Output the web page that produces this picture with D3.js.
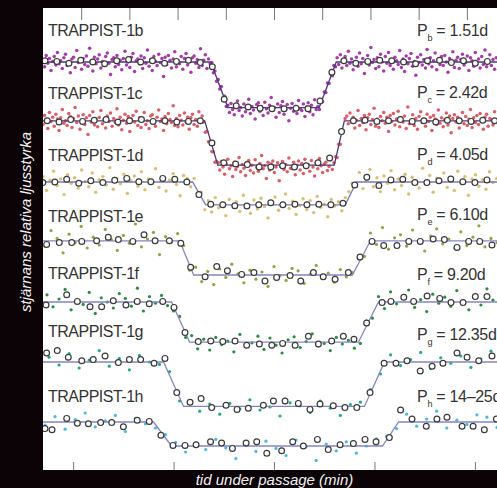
<!DOCTYPE html>
<html>
<head>
<meta charset="utf-8">
<script src="https://cdn.jsdelivr.net/npm/d3@7/dist/d3.min.js"></script>
<style>
  html, body { margin: 0; padding: 0; background: #0c0306; }
  svg { display: block; }
</style>
</head>
<body>
<svg width="497" height="488"></svg>
<script>
const width = 497
const height = 488
const panel = {left: 43, top: 8, right: 497, bottom: 470}

// planets, periods, stacking offset and transit shape (ppt, minutes)
const planets = ["b", "c", "d", "e", "f", "g", "h"]
const periods = ["1.51d", "2.42d", "4.05d", "6.10d", "9.20d", "12.35d", "14–25d"]
const offsets = [9.0, 18.8, 29.0, 38.8, 49.0, 59.0, 69.0]
const depths = [7.6, 7.4, 3.8, 5.7, 6.7, 7.4, 4.0]
const contacts = [
  [-31.5, -23, 22.5, 31], [-34.5, -28, 30, 35], [-40.5, -34, 35.5, 41],
  [-47, -40, 39, 48], [-51, -42, 42, 52], [-55, -45, 45, 55], [-60, -51, 54, 62]
]

// raw photometry: first time + cadence (min), then flux (ppt)
const dotStart = [-115, -115, -115, -114, -113, -112, -114]
const dotStep = [0.8, 0.8, 1.75, 3, 3, 5, 5]

const bDots = [
  0.4, -0.8, 1.1, -0.2, 0.6, -1.4, 0.1, 0.9, -0.5, 1.6,
  -0.3, 0.2, -1.1, 0.7, 1.3, -0.6, 0.0, -1.8, 0.5, 0.8,
  -0.9, 1.9, -0.1, 0.3, -1.2, 0.6, -0.4, 1.0, -0.7, 2.3,
  0.2, -1.5, 0.8, -0.3, 0.5, 1.2, -1.0, 0.1, -0.6, 0.9,
  1.5, -0.2, -2.1, 0.4, 0.7, -0.8, 1.1, -0.4, 0.3, -1.3,
  0.6, 1.8, -0.5, 0.0, -0.9, 0.8, 1.4, -1.6, 0.2, 0.5,
  -0.3, 1.0, -1.1, 0.7, -0.2, 2.0, -0.7, 0.4, -1.4, 0.9,
  0.1, -0.6, 1.3, -0.1, 0.6, -2.4, 0.8, -0.4, 1.1, 0.3,
  -1.0, 0.5, 1.7, -0.8, 0.2, -0.3, 0.9, -1.2, 0.6, 1.4,
  -0.5, 0.1, -1.7, 0.7, 1.0, -0.2, 0.4, -0.9, 2.2, -0.6,
  0.3, 1.2, -1.1, 0.5, -0.3,
  -0.1, -1.8, -1.5, -3.2, -2.9, -4.5, -4.1, -6.0, -5.7, -7.4,
  -7.2, -8.4, -6.9, -7.9, -8.8, -7.3, -6.5, -8.1, -7.6, -9.0,
  -7.0, -8.3, -7.7, -6.2, -8.6, -7.4, -8.0, -9.5, -7.1, -6.8,
  -8.2, -7.5, -8.9, -6.7, -7.8, -8.5, -7.2, -5.9, -8.0, -7.6,
  -9.2, -7.0, -8.4, -7.3, -6.6, -8.7, -7.9, -7.1, -9.8, -7.7,
  -6.9, -8.2, -7.4, -8.6, -6.4, -7.8, -8.1, -7.0, -9.1, -7.5,
  -6.8, -8.3, -7.2, -8.8, -6.3, -7.9, -7.4,
  -7.9, -6.4, -6.6, -5.0, -5.1, -3.5, -3.6, -2.0, -2.3, -0.6, -0.8,
  0.7, -0.4, 1.2, -1.0, 0.3, 0.9, -0.6, 1.8, -0.2, 0.5,
  -1.3, 0.1, 0.8, -0.7, 1.5, -0.3, 0.6, -1.9, 0.2, 1.1,
  -0.5, 2.4, -0.1, 0.4, -1.1, 0.7, -0.8, 1.3, 0.0, -1.5,
  0.9, -0.2, 1.6, -0.6, 0.3, -1.2, 0.8, 0.2, -0.4, 1.9,
  -0.9, 0.5, -1.6, 1.0, -0.3, 0.6, 1.4, -0.7, 0.1, -2.2,
  0.8, -0.1, 1.2, -0.5, 0.4, -1.0, 2.1, -0.3, 0.7, -0.8,
  0.2, 1.5, -1.3, 0.5, -0.4, 0.9, -0.6, 1.1, 0.0, -1.7,
  0.6, -0.2, 1.7, -0.9, 0.3, 0.8, -1.1, 0.4, 1.3, -0.5,
  -0.1, 1.0, -1.4, 0.7, 0.2, -0.7, 1.6, -0.3, 0.5, -1.0,
  0.9, -0.4, 2.0, -0.8, 0.1, 1.2, -0.6, 0.4, -1.2, 0.7
]
const cDots = [
  -0.6, 0.9, 0.2, -1.3, 1.4, -0.1, 0.6, -0.9, 1.1, 0.3,
  -1.6, 0.5, 1.9, -0.4, 0.0, -0.8, 1.2, 0.7, -1.1, 0.4,
  2.2, -0.3, 0.8, -1.4, 0.1, 1.0, -0.6, 0.5, -2.3, 0.9,
  -0.2, 1.5, -0.7, 0.3, -1.0, 0.6, 1.7, -0.5, 0.2, -1.2,
  0.8, -0.1, 1.3, -0.9, 0.4, -0.3, 2.0, -0.7, 0.6, -1.5,
  0.1, 1.1, -0.4, 0.7, -1.8, 0.3, 0.9, -0.2, 1.6, -0.8,
  0.5, -1.1, 0.2, 1.4, -0.6, 0.0, -1.3, 0.8, 1.0, -0.4,
  -0.9, 0.6, 1.8, -0.1, 0.3, -1.6, 0.7, -0.5, 1.2, 0.2,
  -0.3, 2.5, -0.8, 0.4, -1.0, 0.9, 0.1, -0.7, 1.3, -0.2,
  0.6, -1.4, 0.5, 1.1, -0.6, 0.2, -0.9, 1.5, -0.3, 0.8,
  -0.2, -1.9, -1.8, -3.5, -3.4, -5.1, -5.2, -6.9, -6.8,
  -7.0, -8.2, -6.8, -7.7, -8.9, -7.2, -6.4, -8.0, -7.5, -9.3,
  -6.9, -8.1, -7.6, -6.1, -8.5, -7.3, -7.9, -9.1, -7.0, -6.6,
  -8.3, -7.4, -8.7, -6.5, -7.8, -8.4, -7.1, -5.8, -8.0, -7.5,
  -9.6, -6.9, -8.2, -7.2, -6.7, -8.6, -7.7, -7.0, -10.0, -7.6,
  -6.8, -8.1, -7.3, -8.5, -6.2, -7.9, -8.0, -6.9, -9.0, -7.4,
  -6.7, -8.2, -7.1, -8.8, -6.4, -7.8, -7.3, -8.4, -6.6, -7.7,
  -9.2, -7.0, -8.0, -6.3, -7.5, -8.6, -7.2, -6.9, -8.3, -7.6,
  -6.5, -8.1, -7.0,
  -6.0, -6.1, -3.9, -3.9, -1.8, -1.7, 0.4,
  0.8, -0.5, 1.3, -0.2, 0.6, -1.2, 0.1, 1.7, -0.8, 0.4,
  -0.3, 0.9, -1.5, 0.5, 1.1, -0.6, 0.2, 2.1, -0.9, 0.3,
  -1.1, 0.7, 0.0, 1.4, -0.4, 0.6, -1.8, 0.9, -0.1, 1.2,
  -0.7, 0.3, 1.6, -1.0, 0.5, -0.2, 0.8, -1.3, 2.3, -0.5,
  0.1, 1.0, -0.8, 0.4, -1.4, 0.7, 1.5, -0.3, 0.2, -0.9,
  1.1, -0.1, 0.6, -1.6, 0.9, 0.3, -0.6, 1.8, -0.4, 0.5,
  -1.0, 0.2, 1.3, -0.7, 0.8, -2.0, 0.4, 1.0, -0.2, 0.6,
  -1.2, 0.1, 1.4, -0.5, 0.7, -0.8, 0.3, 1.9, -1.1, 0.5,
  -0.3, 0.9, -0.6, 1.2, 0.0, -1.4, 0.6, 1.1, -0.9, 0.4,
  0.2, -0.7, 1.5, -0.2
]
const dDots = [
  0.9, -1.4, 0.3, 1.8, -0.6, 0.5, -2.1, 1.2, -0.2, 0.7,
  -1.0, 2.0, 0.1, -0.8, 1.5, -1.7, 0.4, 0.9, -0.5, 2.4,
  -1.2, 0.6, -0.3, 1.3, -1.9, 0.2, 1.0, -0.7, 1.7, -1.3,
  0.5, -0.1, 2.2, -0.9, 0.8, -1.5, 0.3, 1.4, -0.4, -2.3,
  1.1, 0.6, -0.8,
  0.6, -2.4, -1.7, -4.6,
  -3.1, -5.0, -2.6, -4.3, -3.5, -5.6, -2.9, -4.0, -3.3, -4.9,
  -2.2, -3.8, -5.2, -3.0, -4.5, -2.7, -4.1, -6.0, -3.4, -2.5,
  -4.7, -3.6, -2.0, -4.4, -3.2, -5.4, -3.9, -2.8, -4.6, -3.1,
  -5.1, -2.4, -4.2, -3.7, -5.8, -2.9, -4.0, -3.3, -4.8, -2.6,
  -1.6, -0.2,
  -0.5, 1.6, -1.1, 0.4, 2.1, -0.8, 0.7, -1.6, 1.0, -0.2,
  1.9, -1.3, 0.5, -0.6, 1.3, -2.0, 0.8, 0.2, -1.0, 2.3,
  -0.4, 1.1, -1.7, 0.6, 0.0, 1.5, -0.9, 0.3, -1.4, 1.8,
  -0.3, 0.9, -2.2, 0.5, 1.2, -0.7, 0.4, -1.2, 1.7, -0.1,
  0.6
]
const eDots = [
  -0.9, 1.7, 0.4, -2.0, 1.1, -0.3, 2.4, -1.2, 0.6, -0.7,
  1.9, 0.2, -1.6, 0.9, -0.4, 2.8, -1.0, 0.3, 1.4, -2.3,
  0.7, -0.2, 1.2,
  -0.8, -4.9,
  -4.4, -6.8, -5.1, -7.3, -4.7, -6.1, -3.9, -5.5, -7.0, -4.9,
  -6.4, -5.2, -7.6, -4.3, -5.8, -6.6, -4.6, -5.0, -7.1, -5.6,
  -4.1, -6.3, -5.4, -6.9, -4.8, -6.0, -5.3,
  -3.0, -2.6,
  1.3, -0.6, 2.2, -1.4, 0.5, 1.0, -0.9, 1.8, -0.2, -1.7,
  0.8, 2.0, -0.5, 0.3, -1.2, 1.5, -0.8, 0.6, 2.5, -1.0,
  0.4, -0.3
]
const fDots = [
  1.2, -0.8, 0.5, 2.1, -1.3, 0.3, -0.4, 1.6, -1.9, 0.7,
  0.0, -1.0, 1.4, 0.6, -0.7, 2.3, -1.5, 0.9, -0.2, 1.1,
  -0.6,
  -1.5, -2.4, -5.9,
  -5.6, -7.8, -6.2, -8.0, -5.9, -7.1, -6.5, -8.3, -5.4, -7.4,
  -6.8, -5.7, -7.9, -6.0, -7.2, -8.5, -6.3, -5.8, -7.6, -6.6,
  -5.3, -7.3, -6.9, -8.1, -5.9, -7.0, -6.4, -7.7,
  -6.9, -3.2, -2.7,
  0.9, -1.1, 1.7, -0.3, 0.6, 2.0, -0.9, 0.4, -1.6, 1.3,
  -0.2, 0.8, -0.7, 1.9, 0.1, -1.3, 1.0, -0.5, 2.2, 0.3
]
const gDots = [
  0.8, -0.5, 1.4, -1.0, 0.3, 1.9, -0.7, 0.6, -1.3, 1.1, 0.0, -0.4,
  -1.6, -6.5,
  -6.6, -8.2, -7.0, -8.7, -6.9, -7.8, -6.3, -8.0, -7.5, -9.0,
  -6.8, -7.3, -8.4, -6.5, -7.7, -8.9, -7.1, -6.7,
  -4.6, -2.0,
  1.2, -0.6, 0.4, 1.6, -1.1, 0.7, -0.2, 1.0, -0.9, 0.5, 1.8
]
const hDots = [
  -0.5, 0.9, -1.2, 0.4, 1.5, -0.8, 0.2, 1.1, -1.6, 0.6, -0.3,
  -1.0, -2.1,
  -3.4, -5.0, -3.8, -4.6, -2.9, -4.3, -6.1, -3.6, -4.9, -3.2,
  -4.4, -5.6, -3.0, -4.1, -6.4, -3.7, -4.8, -3.3, -5.2, -4.0, -2.8,
  -2.4, -1.1,
  1.3, -0.7, 0.5, 1.8, -1.0, 0.3, -0.4, 1.2, 0.8, -0.9
]

// binned points (open circles): time (min) and flux (ppt)
const bBinT = [-114, -108.1, -102.1, -96.2, -90.2, -84.3, -78.3, -72.4, -66.4, -60.5, -54.5, -48.6, -42.6, -36.7, -30.7, -24.8, -18.8, -12.9, -6.9, -1.0, 5.0, 11.0, 16.9, 22.9, 28.8, 34.8, 40.7, 46.7, 52.6, 58.6, 64.5, 70.5, 76.4, 82.4, 88.3, 94.3, 100.2, 106.2]
const bBinF = [0.2, 0.1, -0.2, 0.3, 0.0, -0.3, 0.2, 0.4, 0.0, 0.2, -0.2, 0.1, 0.3, -0.1, -0.8, -6.2, -7.3, -7.5, -7.7, -7.8, -7.8, -7.7, -7.8, -6.5, -1.7, 0.2, -0.2, 0.1, 0.3, 0.2, 0.0, -0.3, 0.2, 0.3, -0.1, 0.2, -0.2, 0.1]
const cBinT = [-112.9, -107.0, -101.2, -95.3, -89.5, -83.6, -77.7, -71.9, -66.0, -60.2, -54.3, -48.4, -42.6, -36.7, -30.9, -25.0, -19.1, -13.3, -7.4, -1.6, 4.3, 10.2, 16.0, 21.9, 27.7, 33.6, 39.5, 45.3, 51.2, 57.0, 62.9, 68.8, 74.6, 80.5, 86.3, 92.2, 98.1, 103.9, 109.8]
const cBinF = [0.0, -0.2, 0.2, -0.1, 0.1, 0.2, -0.2, 0.0, 0.2, -0.1, 0.0, -0.2, -0.1, 0.0, -3.7, -7.0, -7.2, -7.3, -7.7, -7.7, -7.5, -7.7, -7.5, -7.0, -6.2, -1.8, 0.0, 0.1, -0.1, 0.0, 0.2, -0.1, 0.0, -0.2, 0.1, 0.0, -0.1, 0.1, 0.0]
const dBinT = [-115.1, -109.1, -103.2, -97.2, -91.2, -85.2, -79.3, -73.3, -67.3, -61.3, -55.4, -49.4, -43.4, -37.4, -31.5, -25.5, -19.5, -13.5, -7.6, -1.6, 4.4, 10.4, 16.4, 22.3, 28.3, 34.3, 40.2, 46.2, 52.2, 58.2, 64.1, 70.1, 76.1, 82.1, 88.0, 94.0, 100.0, 106.0]
const dBinF = [-0.1, 0.0, 0.45, -0.2, 0.2, -0.1, 0.3, 0.6, 0.05, 0.05, 0.6, 0.45, 0.0, -2.1, -3.7, -3.8, -3.95, -4.0, -3.8, -3.45, -3.8, -3.7, -3.8, -3.7, -3.8, -3.55, -0.5, 0.8, -0.6, 0.35, 0.45, -0.1, -0.1, 0.2, 0.5, 0.05, -0.1, 0.35]
const eBinT = [-113.2, -106.9, -100.7, -95.7, -88.3, -82.5, -77.5, -70.3, -64.7, -59.2, -52.1, -46.4, -41.5, -34.3, -28.5, -23.2, -16.1, -10.0, -4.5, 1.3, 8.0, 13.3, 19.6, 24.5, 30.4, 37.0, 42.8, 48.8, 54.6, 61.2, 67.1, 72.8, 79.2, 84.8, 91.1, 96.9, 102.4, 108.5]
const eBinF = [-0.6, -0.3, -0.3, -0.1, 0.0, 0.6, 0.2, -0.1, 1.0, 0.0, 0.0, -0.4, -4.4, -6.0, -4.3, -5.0, -5.6, -5.3, -6.7, -6.1, -5.8, -6.7, -5.3, -6.0, -6.4, -5.3, -2.7, -0.1, -0.8, -0.8, -0.1, -0.1, 0.3, 0.2, -1.1, -0.1, -0.1, -0.7]
const fBinT = [-113.5, -103.2, -97.9, -91.6, -85.8, -80.0, -73.7, -68.1, -62.1, -55.4, -49.8, -44.3, -37.7, -31.5, -25.5, -19.4, -13.6, -7.3, -1.1, 4.3, 10.5, 17.1, 22.1, 28.7, 34.5, 39.8, 46.1, 53.8, 58.2, 64.6, 69.5, 76.2, 82.5, 88.1, 94.1, 100.2, 106.0]
const fBinF = [-0.5, 1.2, 0.1, -0.8, -0.8, 0.2, -0.5, 0.1, -0.3, 0.1, -0.9, -5.1, -6.6, -6.5, -6.6, -6.5, -7.2, -7.0, -7.2, -6.9, -7.2, -5.7, -7.0, -6.5, -5.7, -6.2, -3.5, -0.1, 0.1, 0.8, 0.1, 1.0, 0.6, -0.1, -0.1, 0.9, 0.9]
const gBinT = [-113.2, -107.9, -102.4, -95.7, -90.0, -84.1, -77.5, -72.0, -66.4, -59.7, -54.3, -48.4, -41.8, -36.3, -31.0, -23.9, -18.4, -12.8, -5.3, -0.3, 5.5, 12.1, 17.9, 22.9, 29.5, 35.3, 41.2, 47.8, 54.8, 60.7, 66.2, 72.8, 78.7, 84.1, 91.1, 96.1, 101.9, 108.5]
const gBinF = [1.5, 1.9, 0.8, 0.2, 0.4, 1.0, -0.1, 0.4, 0.4, -0.2, 0.6, -5.1, -6.7, -6.1, -7.6, -7.2, -7.9, -7.7, -7.2, -6.5, -6.5, -6.9, -7.9, -7.0, -7.3, -7.6, -7.6, -5.1, -0.2, -0.2, 0.2, -1.5, -0.7, -0.2, 1.5, 0.8, 0.2, 1.0]
const hBinT = [-114.0, -110.5, -103.2, -97.9, -92.4, -86.3, -80.8, -75.0, -68.1, -62.1, -56.3, -50.3, -44.3, -38.8, -31.6, -26.1, -20.7, -13.9, -8.6, -3.6, 3.8, 9.3, 14.6, 21.6, 27.0, 32.9, 39.5, 45.3, 50.8, 57.4, 63.0, 68.7, 75.8, 81.1, 86.1, 93.6, 99.1, 104.7, 110.7]
const hBinF = [-1.1, -1.3, 0.6, -0.2, -0.3, -0.1, -0.1, -0.8, 0.3, 0.1, -2.2, -3.9, -3.9, -3.8, -3.3, -3.5, -4.4, -3.5, -3.3, -5.2, -4.8, -3.3, -4.0, -2.9, -4.6, -3.8, -3.6, -2.9, -3.3, -2.6, 2.0, 0.5, -0.7, 0.5, 0.8, -0.7, -0.7, -1.3, 0.5]

const topTicks = [-96, -72, -48, -24, 0, 24, 48, 72, 96]
const bottomTicks = [-100, -50, 0, 50, 100]

const dots = [bDots, cDots, dDots, eDots, fDots, gDots, hDots]
const binT = [bBinT, cBinT, dBinT, eBinT, fBinT, gBinT, hBinT]
const binF = [bBinF, cBinF, dBinF, eBinF, fBinF, gBinF, hBinF]

// styles
const dotColors = ["#a33ea8", "#d95f68", "#d9bf78", "#96a04a", "#2e8b45", "#28a58a", "#4db8e0"]
const dotRadius = [1.75, 1.75, 1.7, 1.6, 1.6, 1.6, 1.6]
const lineColors = ["#4a3a78", "#4a3a78", "#7a7ab4", "#8486c0", "#8486c0", "#8486c0", "#8486c0"]
const nameNudge = [-4, 0, 1, 3, -1, -3, 2]
const periodNudge = [-4, -1, 0, 1, 0, 0, 2]

const x = d3.scaleLinear().domain([-115, 111]).range([panel.left, panel.right])
const y = d3.scaleLinear().domain([0, -77]).range([panel.top, panel.bottom])

const svg = d3.select("svg")

svg.append("rect")
  .attr("width", width).attr("height", height)
  .attr("fill", "#0c0306")

svg.append("defs").append("clipPath").attr("id", "panel-clip")
  .append("rect")
  .attr("x", panel.left).attr("y", panel.top)
  .attr("width", panel.right - panel.left).attr("height", panel.bottom - panel.top)

svg.append("rect")
  .attr("x", panel.left).attr("y", panel.top)
  .attr("width", panel.right - panel.left).attr("height", panel.bottom - panel.top)
  .attr("fill", "#ffffff")

// tick marks, no labels
const gTop = svg.append("g")
  .attr("transform", `translate(0,${panel.top})`)
  .call(d3.axisBottom(x).tickValues(topTicks).tickSize(12).tickFormat(""))
const gBottom = svg.append("g")
  .attr("transform", `translate(0,${panel.bottom})`)
  .call(d3.axisBottom(x).tickValues(bottomTicks).tickSize(-8).tickFormat(""))
for (const g of [gTop, gBottom]) {
  g.select(".domain").remove()
  g.selectAll("line").attr("stroke", "#777").attr("stroke-width", 1)
}

const plot = svg.append("g").attr("clip-path", "url(#panel-clip)")

const line = d3.line().x(d => x(d[0])).y(d => y(d[1]))

planets.forEach((p, k) => {
  const off = offsets[k]
  const c = contacts[k]
  const g = plot.append("g").attr("class", "planet-" + p)

  const pts = dots[k].map((f, i) => [dotStart[k] + dotStep[k] * i, f])
  g.selectAll("circle.dot")
    .data(pts)
    .enter().append("circle")
    .attr("class", "dot")
    .attr("cx", d => x(d[0]))
    .attr("cy", d => y(d[1] - off))
    .attr("r", dotRadius[k])
    .attr("fill", dotColors[k])

  const model = [[-115, 0], [c[0], 0], [c[1], -depths[k]], [c[2], -depths[k]], [c[3], 0], [111, 0]]
  g.append("path")
    .datum(model.map(d => [d[0], d[1] - off]))
    .attr("d", line)
    .attr("fill", "none")
    .attr("stroke", lineColors[k])
    .attr("stroke-width", 1.3)

  const bins = binT[k].map((t, i) => [t, binF[k][i]])
  g.selectAll("circle.bin")
    .data(bins)
    .enter().append("circle")
    .attr("class", "bin")
    .attr("cx", d => x(d[0]))
    .attr("cy", d => y(d[1] - off))
    .attr("r", 2.9)
    .attr("fill", "#fff")
    .attr("stroke", "#3a3a3a")
    .attr("stroke-width", 1.2)

  // labels
  const base = y(-off) - 22
  svg.append("text")
    .attr("x", 48).attr("y", base + nameNudge[k])
    .attr("font-family", "Liberation Sans, Arial, sans-serif")
    .attr("font-size", 16)
    .attr("letter-spacing", "-0.5px")
    .attr("fill", "#333")
    .text("TRAPPIST-1" + p)

  const per = svg.append("text")
    .attr("x", 417).attr("y", base + periodNudge[k])
    .attr("font-family", "Liberation Sans, Arial, sans-serif")
    .attr("font-size", 16)
    .attr("letter-spacing", "-0.3px")
    .attr("fill", "#333")
  per.append("tspan").text("P")
  per.append("tspan").attr("dy", 5).attr("font-size", 9).text(p)
  per.append("tspan").attr("dy", -5).text(" = " + periods[k])
})

// axis titles
svg.append("text")
  .attr("transform", `translate(31,222) rotate(-90)`)
  .attr("text-anchor", "middle")
  .attr("font-family", "Liberation Sans, Arial, sans-serif")
  .attr("font-style", "italic")
  .attr("font-size", 15)
  .attr("fill", "#f2f2f2")
  .text("stjärnans relativa ljusstyrka")

svg.append("text")
  .attr("x", 274.5).attr("y", 485)
  .attr("text-anchor", "middle")
  .attr("font-family", "Liberation Sans, Arial, sans-serif")
  .attr("font-style", "italic")
  .attr("font-size", 15)
  .attr("fill", "#f2f2f2")
  .text("tid under passage (min)")
</script>
</body>
</html>
